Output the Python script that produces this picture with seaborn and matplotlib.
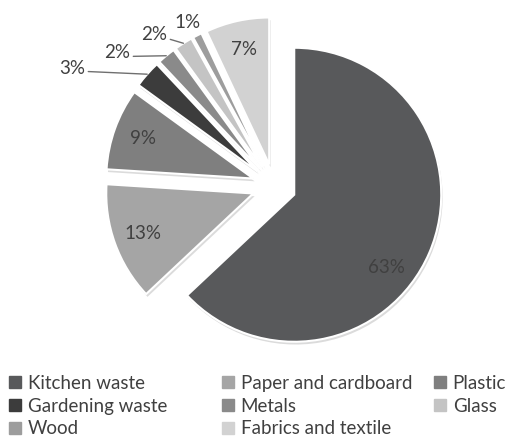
import numpy as np
import matplotlib
matplotlib.use("Agg")
import matplotlib.pyplot as plt
import seaborn as sns
from matplotlib.lines import Line2D
import matplotlib.patheffects as pe

# ---- data ----
categories = ["Kitchen waste", "Paper and cardboard", "Plastic", "Gardening waste",
              "Metals", "Glass", "Wood", "Fabrics and textile"]
values = [63, 13, 9, 3, 2, 2, 1, 7]
colors = ["#58595b", "#a5a5a5", "#7f7f7f", "#3c3c3c", "#8a8a8a", "#c4c4c4", "#9d9d9d", "#d2d2d2"]

# ---- style ----
sns.set_theme(style="white")
plt.rcParams["font.family"] = ["Lato", "DejaVu Sans"]
TXT = "#404040"
LABEL_FS = 13.5
LEGEND_FS = 13.5

W, H = 509, 437
fig = plt.figure(figsize=(W / 100, H / 100), dpi=100)
ax = fig.add_axes([0, 0, 1, 1])

R_PX = 147.0
CX, CY = 274.0, 186.0
EXPL = 0.15

wedges, _ = ax.pie(values, colors=colors, startangle=90, counterclock=False,
                   explode=[EXPL] * len(values), radius=1.0,
                   wedgeprops=dict(edgecolor="white", linewidth=1.5))
for w in wedges:
    w.set_path_effects([pe.SimplePatchShadow(offset=(1, -2), shadow_rgbFace="#999999", alpha=0.35),
                        pe.Normal()])

ax.set_xlim(-CX / R_PX, (W - CX) / R_PX)
ax.set_ylim(-(H - CY) / R_PX, CY / R_PX)
ax.set_aspect("equal")
ax.axis("off")


def px2d(x, y):
    return ((x - CX) / R_PX, (CY - y) / R_PX)


# label placement (text layout only)
inside_angle_shift = {0: -15}
outside_text_px = {3: (72, 68), 4: (117, 53), 5: (154, 35), 6: (188, 22)}
with_line = {3, 4, 5}

for i, (w, v) in enumerate(zip(wedges, values)):
    mid = np.deg2rad((w.theta1 + w.theta2) / 2)
    cxw, cyw = w.center
    lab = f"{v}%"
    if i in outside_text_px:
        tx, ty = px2d(*outside_text_px[i])
        arc = (cxw + np.cos(mid), cyw + np.sin(mid))
        if i in with_line:
            ax.annotate(lab, xy=arc, xytext=(tx, ty), ha="center", va="center",
                        fontsize=LABEL_FS, color=TXT,
                        arrowprops=dict(arrowstyle="-", color="#6f6f6f", lw=1.0,
                                        relpos=(1.0, 0.3), shrinkA=0, shrinkB=0))
        else:
            ax.text(tx, ty, lab, ha="center", va="center", fontsize=LABEL_FS, color=TXT)
    else:
        ang = mid + np.deg2rad(inside_angle_shift.get(i, 0))
        ax.text(cxw + 0.8 * np.cos(ang), cyw + 0.8 * np.sin(ang), lab,
                ha="center", va="center", fontsize=LABEL_FS, color=TXT)

# ---- legend: three columns, row-wise order ----
handles = [Line2D([], [], marker="s", linestyle="none", markersize=8,
                  markerfacecolor=c, markeredgecolor=c) for c in colors]
cols = [[0, 3, 6], [1, 4, 7], [2, 5]]
col_x = [8, 221, 433]
for xi, idxs in zip(col_x, cols):
    fig.legend([handles[k] for k in idxs], [categories[k] for k in idxs],
               loc="upper left", bbox_to_anchor=(xi / W, (H - 375) / H),
               frameon=False, fontsize=LEGEND_FS, handlelength=0.7, handletextpad=0.35,
               labelspacing=0.3, borderpad=0, borderaxespad=0, labelcolor=TXT)

fig.savefig("out.png", dpi=100)
